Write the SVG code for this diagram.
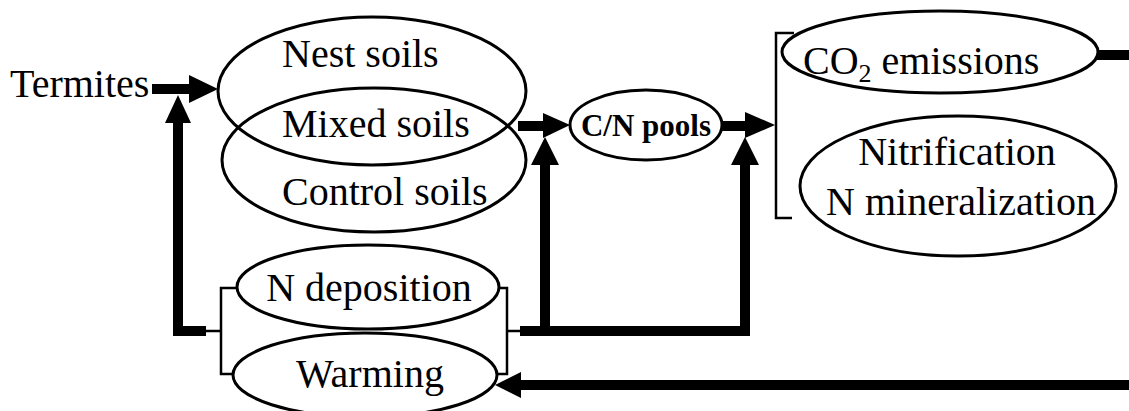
<svg xmlns="http://www.w3.org/2000/svg" width="1129" height="411" viewBox="0 0 1129 411">
<style>
.n{fill:none;stroke:#000;stroke-width:3}
.t{font-family:"Liberation Serif","Times New Roman",serif;font-size:40px;fill:#000}
.b{font-family:"Liberation Serif","Times New Roman",serif;font-size:31px;font-weight:bold;fill:#000}
.thick{fill:none;stroke:#000;stroke-width:10}
.thin{fill:none;stroke:#000;stroke-width:2.5}
.head{fill:#000;stroke:none}
</style>
<rect width="1129" height="411" fill="#fff"/>
<g id="termites"><text class="t" x="10" y="97">Termites</text></g>
<g id="nest"><ellipse class="n" cx="372" cy="91" rx="154" ry="74"/><text class="t" x="282" y="67">Nest soils</text></g>
<g id="mixed"><text class="t" x="282" y="137">Mixed soils</text></g>
<g id="control"><ellipse class="n" cx="374" cy="160" rx="152" ry="72"/><text class="t" x="282" y="205">Control soils</text></g>
<g id="cnpools"><ellipse class="n" cx="646" cy="125" rx="76" ry="35"/><text class="b" x="646" y="136" text-anchor="middle">C/N pools</text></g>
<g id="co2"><ellipse class="n" cx="940" cy="52" rx="158" ry="41"/><text class="t" x="803" y="74">CO<tspan font-size="26" dy="8">2</tspan><tspan dy="-8"> emissions</tspan></text></g>
<g id="nitrification"><ellipse class="n" cx="958" cy="186" rx="158" ry="70"/><text class="t" x="957" y="165" text-anchor="middle">Nitrification</text><text class="t" x="961" y="215" text-anchor="middle">N mineralization</text></g>
<g id="ndeposition"><ellipse class="n" cx="368" cy="287" rx="131" ry="42"/><text class="t" x="369" y="301" text-anchor="middle">N deposition</text></g>
<g id="warming"><ellipse class="n" cx="365" cy="375" rx="132" ry="42"/><text class="t" x="370" y="387" text-anchor="middle">Warming</text></g>
<g id="connectors">
<path class="thin" d="M794,33 H776 V218 H792"/>
<path class="thin" d="M238,288 H221 V374 H234 M206,331 H221"/>
<path class="thin" d="M498,288 H507 V374 H496 M507,331 H520"/>
<path class="thick" d="M152,89 H191"/>
<polygon class="head" points="189,75 218,89 189,103"/>
<path class="thick" d="M206,331 H178 V121"/>
<polygon class="head" points="165,123 178,95 191,123"/>
<path class="thick" d="M518,126 H545"/>
<polygon class="head" points="543,113 570,125 543,138"/>
<path class="thick" d="M520,331 H745 V163 M545,331 V163"/>
<polygon class="head" points="531,165 545,137 559,165"/>
<path class="thick" d="M722,126 H747"/>
<polygon class="head" points="745,112 775,125 745,138"/>
<polygon class="head" points="731,165 745,137 759,165"/>
<path class="thick" d="M1097,55 H1129"/>
<path class="thick" d="M1129,385 H519"/>
<polygon class="head" points="521,372 495,385 521,398"/>
</g>
</svg>
